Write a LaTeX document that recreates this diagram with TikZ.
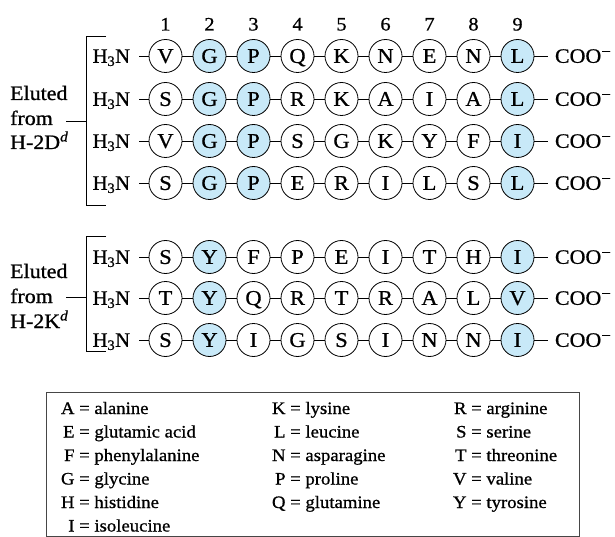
\documentclass[tikz,border=0pt]{standalone}
\usepackage{fontspec}
\setmainfont{Liberation Serif}[FakeStretch=1.07,FakeBold=0.8]
\newfontfamily\plainserif{Liberation Serif}[FakeBold=0.8]
\definecolor{hl}{RGB}{200,233,248}
\definecolor{boxline}{RGB}{70,70,70}
\newcommand\peprow[4]{%
  % #1 id, #2 y, #3 letters, #4 highlighted columns
  \node[lbl,anchor=base east,outer xsep=9pt] (h#1) at (139,#2+6.8) {\plainserif H\textsubscript{3}N};
  \foreach \l [count=\i] in {#3} {
    \def\sty{res}
    \foreach \k in {#4} {\ifnum\k=\i \global\let\sty\hlsty\fi}
    \node[\sty] (r#1-\i) at ({165.5+44*(\i-1)},#2) {\l};
    \global\let\sty\ressty
  }
  \draw[bond] (h#1.east |- r#1-1.west) -- (r#1-1.west);
  \foreach \i [remember=\i as \j (initially 1)] in {2,...,9} {
    \draw[bond] (r#1-\j.east) -- (r#1-\i.west);
  }
  \node[lbl,anchor=base west,outer xsep=7pt] (c#1) at (548,#2+6.8) {COO{\fontsize{16}{16}\selectfont\raisebox{6pt}{−}}};
  \draw[bond] (r#1-9.east) -- (c#1.west |- r#1-9.east);
}
\def\hlsty{hi}
\def\ressty{res}
\begin{document}
\begin{tikzpicture}[x=1pt,y=-1pt,
  res/.style={circle,draw,line width=0.8pt,minimum size=33pt,inner sep=0pt,
    text height=13.8pt,text depth=0pt,font=\fontsize{21}{21}\selectfont},
  hi/.style={res,fill=hl},
  lbl/.style={font=\fontsize{20.5}{24}\selectfont,inner sep=0pt},
  num/.style={font=\fontsize{19}{20}\selectfont,inner sep=0pt,anchor=base},
  bond/.style={line width=0.8pt},
  brk/.style={line width=1pt},
  leg/.style={font=\fontsize{17.5}{20}\selectfont,inner sep=0pt,anchor=base west}]
\useasboundingbox (0,0) rectangle (615,537);

% column numbers
\foreach \i in {1,...,9} {
  \node[num] (n\i) at ({165.5+44*(\i-1)},30.5) {\i};
}

% group 1 (H-2D^d)
\peprow{1}{56}{V,G,P,Q,K,N,E,N,L}{2,3,9}
\peprow{2}{99}{S,G,P,R,K,A,I,A,L}{2,3,9}
\peprow{3}{141}{V,G,P,S,G,K,Y,F,I}{2,3,9}
\peprow{4}{183}{S,G,P,E,R,I,L,S,L}{2,3,9}

% group 2 (H-2K^d)
\peprow{5}{257}{S,Y,F,P,E,I,T,H,I}{2,9}
\peprow{6}{298}{T,Y,Q,R,T,R,A,L,V}{2,9}
\peprow{7}{340}{S,Y,I,G,S,I,N,N,I}{2,9}

% labels group 1
\node[lbl,anchor=base west] (e1) at (10,100) {Eluted};
\node[lbl,anchor=base west] (f1) at (10,125) {from};
\node[lbl,anchor=base west] (d1) at (10,149) {H-2D\textsuperscript{\textit{d}}};
\coordinate (b1a) at (106,37);
\coordinate (b1b) at (86,37);
\coordinate (b1c) at (86,206);
\coordinate (b1d) at (106,206);
\coordinate (b1m) at (86,121.5);
\coordinate (b1l) at (66,121.5);
\draw[brk] (b1a) -- (b1b) -- (b1c) -- (b1d);
\draw[brk] (b1l) -- (b1m);

% labels group 2
\node[lbl,anchor=base west] (e2) at (10,278) {Eluted};
\node[lbl,anchor=base west] (f2) at (10,303) {from};
\node[lbl,anchor=base west] (d2) at (10,328) {H-2K\textsuperscript{\textit{d}}};
\coordinate (b2a) at (106,237);
\coordinate (b2b) at (86,237);
\coordinate (b2c) at (86,351);
\coordinate (b2d) at (106,351);
\coordinate (b2m) at (86,297);
\coordinate (b2l) at (66,297);
\draw[brk] (b2a) -- (b2b) -- (b2c) -- (b2d);
\draw[brk] (b2l) -- (b2m);

% legend
\draw[boxline,line width=0.9pt] (46,392) rectangle (579,536);
\node[leg] (lA) at (79,414)   {\llap{A\ }= alanine};
\node[leg] (lE) at (79,437.5) {\llap{E\ }= glutamic acid};
\node[leg] (lF) at (79,461)   {\llap{F\ }= phenylalanine};
\node[leg] (lG) at (79,484.5) {\llap{G\ }= glycine};
\node[leg] (lH) at (79,508)   {\llap{H\ }= histidine};
\node[leg] (lI) at (79,531.5) {\llap{I\ }= isoleucine};
\node[leg] (lK) at (290,414)   {\llap{K\ }= lysine};
\node[leg] (lL) at (290,437.5) {\llap{L\ }= leucine};
\node[leg] (lN) at (290,461)   {\llap{N\ }= asparagine};
\node[leg] (lP) at (290,484.5) {\llap{P\ }= proline};
\node[leg] (lQ) at (290,508)   {\llap{Q\ }= glutamine};
\node[leg] (lR) at (471,414)   {\llap{R\ }= arginine};
\node[leg] (lS) at (471,437.5) {\llap{S\ }= serine};
\node[leg] (lT) at (471,461)   {\llap{T\ }= threonine};
\node[leg] (lV) at (471,484.5) {\llap{V\ }= valine};
\node[leg] (lY) at (471,508)   {\llap{Y\ }= tyrosine};
\end{tikzpicture}
\end{document}
